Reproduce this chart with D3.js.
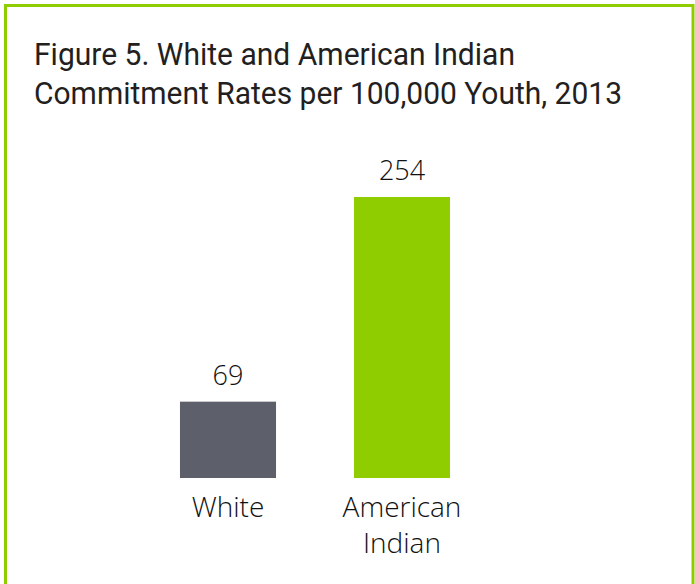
<!DOCTYPE html>
<html>
<head>
<meta charset="utf-8">
<script src="https://cdn.jsdelivr.net/npm/d3@7"></script>
<style>
  html, body { margin: 0; padding: 0; background: #fff; }
  svg { display: block; }
</style>
</head>
<body>
<div id="chart"></div>
<script>
const titleLines = ["Figure 5. White and American Indian", "Commitment Rates per 100,000 Youth, 2013"];
const categories = ["White", "American Indian"];
const categoryLabelLines = [["White"], ["American", "Indian"]];
const values = [69, 254];
const barColors = ["#5d5f6a", "#8fcc00"];

const W = 695, H = 584;
const svg = d3.select("#chart").append("svg").attr("width", W).attr("height", H);

// frame
svg.append("rect")
  .attr("x", 5.5).attr("y", 5.5).attr("width", 687.5).attr("height", 700)
  .attr("fill", "none").attr("stroke", "#8fcc00").attr("stroke-width", 3);

// title
const titleWidths = [481, 588];
svg.append("g").selectAll("text").data(titleLines).join("text")
  .attr("x", 34).attr("y", (d, i) => 64.5 + i * 39.5)
  .attr("font-family", "Roboto, 'Liberation Sans', sans-serif")
  .attr("font-size", 32)
  .attr("fill", "#231f20")
  .attr("textLength", (d, i) => titleWidths[i])
  .attr("lengthAdjust", "spacingAndGlyphs")
  .text(d => d);

const x = d3.scaleBand().domain(categories).range([141, 489])
  .paddingInner(0.448).paddingOuter(0.224);
const y = d3.scaleLinear().domain([0, 254]).range([478, 197]);

svg.append("g").selectAll("rect").data(values).join("rect")
  .attr("x", (d, i) => x(categories[i]))
  .attr("y", d => y(d))
  .attr("width", x.bandwidth())
  .attr("height", d => y(0) - y(d))
  .attr("fill", (d, i) => barColors[i]);

const labelFont = "'Open Sans', 'Noto Sans', sans-serif";

svg.append("g").selectAll("text").data(values).join("text")
  .attr("x", (d, i) => x(categories[i]) + x.bandwidth() / 2)
  .attr("y", d => y(d) - 17)
  .attr("text-anchor", "middle")
  .attr("font-family", labelFont)
  .attr("font-weight", 300)
  .attr("font-size", 27)
  .attr("fill", "#111")
  .text(d => d);

const catG = svg.append("g");
categories.forEach((c, i) => {
  catG.append("text")
    .attr("x", x(c) + x.bandwidth() / 2)
    .attr("y", 517)
    .attr("text-anchor", "middle")
    .attr("font-family", labelFont)
    .attr("font-weight", 300)
    .attr("font-size", 28)
    .attr("fill", "#111")
    .selectAll("tspan").data(categoryLabelLines[i]).join("tspan")
    .attr("x", x(c) + x.bandwidth() / 2)
    .attr("dy", (d, j) => j === 0 ? 0 : 36)
    .text(d => d);
});
</script>
</body>
</html>
